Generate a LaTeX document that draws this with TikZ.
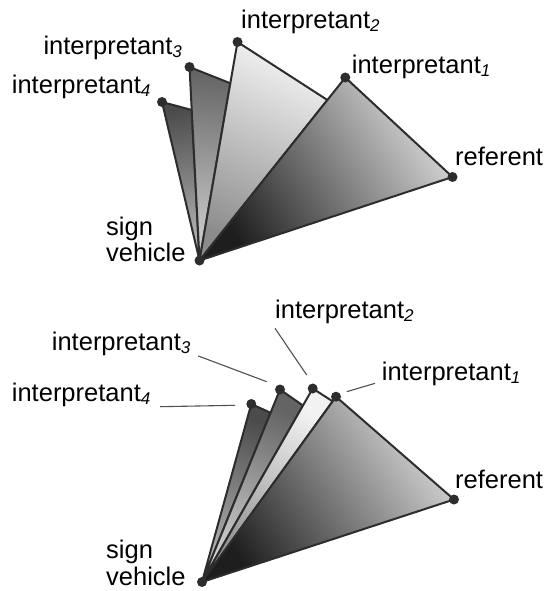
\documentclass[tikz,border=0pt]{standalone}
\usepackage{fontspec}
\setmainfont{Liberation Sans}
\usetikzlibrary{calc}
\newcommand\isub[1]{\raisebox{-3pt}{\fontsize{17}{17}\selectfont\itshape #1}}
\definecolor{edgecol}{RGB}{45,45,45}
\definecolor{leadcol}{RGB}{80,80,80}
\begin{document}
\begin{tikzpicture}[x=1pt,y=-1pt,
  edge/.style={draw=edgecol,line width=2pt,line join=round},
  tri1/.style={edge,top color={rgb,255:red,215;green,215;blue,215},bottom color={rgb,255:red,30;green,30;blue,30},shading angle=#1},
  tri2/.style={edge,top color={rgb,255:red,242;green,242;blue,242},bottom color={rgb,255:red,140;green,140;blue,140},shading angle=#1},
  tri3/.style={edge,top color={rgb,255:red,100;green,100;blue,100},bottom color={rgb,255:red,210;green,210;blue,210},shading angle=#1},
  tri4/.style={edge,top color={rgb,255:red,75;green,75;blue,75},bottom color={rgb,255:red,185;green,185;blue,185},shading angle=#1},
  dot/.style={circle,fill=edgecol,inner sep=0pt,minimum size=10pt},
  lbl/.style={anchor=base west,inner sep=0pt,font=\fontsize{25.5}{26.7}\selectfont},
  leader/.style={draw=leadcol,line width=1.1pt}]
\useasboundingbox (0,0) rectangle (548,591);
% ---------- top diagram ----------
\coordinate (S) at (199.5,260.5);
\coordinate (R) at (452.5,177);
\coordinate (I1) at (345.3,77.5);
\coordinate (I2) at (237.5,42);
\coordinate (I3) at (189.5,67);
\coordinate (I4) at (162,102);
\coordinate (P2) at ($(S)!0.877!(I1)$);
\coordinate (P3) at ($(S)!0.811!(I2)$);
\coordinate (P4) at ($(S)!0.778!(I3)$);
\path[tri4=8] (S) -- (I4) -- (P4) -- cycle;
\path[tri3=-4] (S) -- (I3) -- (P3) -- cycle;
\path[tri2=-25] (S) -- (I2) -- (P2) -- cycle;
\path[tri1=-57] (S) -- (I1) -- (R) -- cycle;
\foreach \p in {S,R,I1,I2,I3,I4} \node[dot] (d\p) at (\p) {};
\node[lbl] (tI1) at (351.7,73.3) {interpretant\isub{1}};
\node[lbl] (tI2) at (241,28.3) {interpretant\isub{2}};
\node[lbl] (tI3) at (43.3,55) {interpretant\isub{3}};
\node[lbl] (tI4) at (11.7,93.3) {interpretant\isub{4}};
\node[lbl] (tR) at (455,165) {referent};
\node[lbl] (tS) at (106,261.7) {\fontsize{25.5}{26.7}\selectfont\begin{tabular}[b]{@{}l@{}}sign\\vehicle\end{tabular}};
% ---------- bottom diagram ----------
\coordinate (Sb) at (202,582);
\coordinate (Rb) at (454,499.5);
\coordinate (I1b) at (336,396.7);
\coordinate (I2b) at (312.7,388.5);
\coordinate (I3b) at (280,389.5);
\coordinate (I4b) at (251.3,404);
\coordinate (P2b) at ($(Sb)!0.975!(I1b)$);
\coordinate (P3b) at ($(Sb)!0.912!(I2b)$);
\coordinate (P4b) at ($(Sb)!0.879!(I3b)$);
\path[tri4=-19] (Sb) -- (I4b) -- (P4b) -- cycle;
\path[tri3=-26] (Sb) -- (I3b) -- (P3b) -- cycle;
\path[tri2=-33] (Sb) -- (I2b) -- (P2b) -- cycle;
\path[tri1=-55] (Sb) -- (I1b) -- (Rb) -- cycle;
\foreach \p in {Sb,Rb,I1b,I2b,I3b,I4b} \node[dot] (d\p) at (\p) {};
\node[lbl] (tI1b) at (381.7,380) {interpretant\isub{1}};
\node[lbl] (tI2b) at (275,318.3) {interpretant\isub{2}};
\node[lbl] (tI3b) at (51.7,350) {interpretant\isub{3}};
\node[lbl] (tI4b) at (11.7,401.7) {interpretant\isub{4}};
\node[lbl] (tRb) at (455,488.3) {referent};
\node[lbl] (tSb) at (106,585) {\fontsize{25.5}{26.7}\selectfont\begin{tabular}[b]{@{}l@{}}sign\\vehicle\end{tabular}};
% leaders
\coordinate (a1) at (375,383.3); \coordinate (b1) at (346.7,391.7);
\coordinate (a2) at (275,328.3); \coordinate (b2) at (306.7,375);
\coordinate (a3) at (198.3,356); \coordinate (b3) at (266.7,381.7);
\coordinate (a4) at (160,406.7); \coordinate (b4) at (235,405.3);
\draw[leader] (a1) -- (b1);
\draw[leader] (a2) -- (b2);
\draw[leader] (a3) -- (b3);
\draw[leader] (a4) -- (b4);
\end{tikzpicture}
\end{document}
